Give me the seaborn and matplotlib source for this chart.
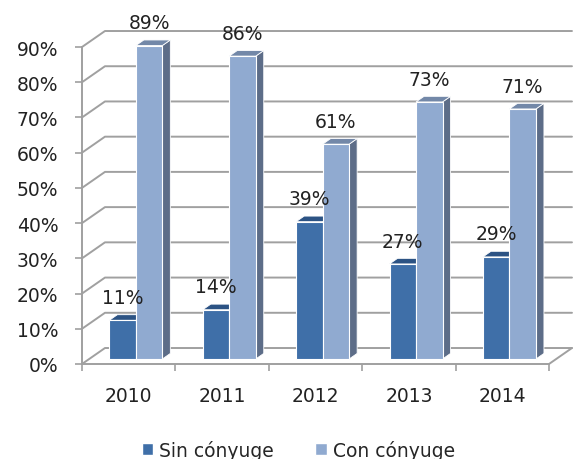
import numpy as np
import pandas as pd
import matplotlib
matplotlib.use("Agg")
import matplotlib.pyplot as plt
from matplotlib.patches import Polygon, Rectangle
from matplotlib.ticker import PercentFormatter
import seaborn as sns

# data
years = ["2010", "2011", "2012", "2013", "2014"]
sin_conyuge = [11, 14, 39, 27, 29]
con_conyuge = [89, 86, 61, 73, 71]
series_names = ["Sin cónyuge", "Con cónyuge"]

df = pd.DataFrame({
    "year": years * 2,
    "value": sin_conyuge + con_conyuge,
    "serie": [series_names[0]] * len(years) + [series_names[1]] * len(years),
})

sns.set_style("white")
plt.rcParams["font.family"] = ["DejaVu Sans"]
plt.rcParams["font.size"] = 13.5

front = {"Sin cónyuge": "#3F6FA8", "Con cónyuge": "#90AAD0"}
side = {"Sin cónyuge": "#2B4D78", "Con cónyuge": "#5D6D88"}
top = {"Sin cónyuge": "#2C5384", "Con cónyuge": "#7388A8"}
grid_col = "#A0A0A0"

# fake depth (in data units): full depth of the box and the bars' slab
DX, DY = 0.246, 4.54
Z0, Z1 = 0.31, 0.66

fig = plt.figure(figsize=(5.74, 4.6), dpi=100)
ax = fig.add_axes([82 / 574, 95 / 460, 467 / 574, 317 / 460])

sns.barplot(data=df, x="year", y="value", hue="serie", palette=front,
            width=0.567, saturation=1, legend=False, ax=ax,
            edgecolor="white", linewidth=0.8)
ax.set_xlim(-0.5, 4.5)
ax.set_ylim(0, 90)

# walls: side wall and back wall gridlines, floor
for v in range(0, 91, 10):
    ax.plot([-0.5, -0.5 + DX, 4.5 + DX], [v, v + DY, v + DY],
            color=grid_col, lw=1.4, clip_on=False, zorder=0)
ax.plot([4.5, 4.5 + DX], [0, DY], color=grid_col, lw=1.4, clip_on=False, zorder=0)

# turn flat bars into boxes
for k, (name, cont) in enumerate(zip(series_names, ax.containers)):
    z = 2 + k
    for bar in cont:
        x0 = bar.get_x() + Z0 * DX
        h = bar.get_height()
        w = bar.get_width()
        y0 = Z0 * DY
        bar.set_x(x0)
        bar.set_y(y0)
        bar.set_zorder(z + 0.2)
        bar.set_clip_on(False)
        d = (Z1 - Z0)
        sx = [x0 + w, x0 + w + d * DX, x0 + w + d * DX, x0 + w]
        sy = [y0, y0 + d * DY, y0 + h + d * DY, y0 + h]
        ax.add_patch(Polygon(np.column_stack([sx, sy]), closed=True,
                             facecolor=side[name], edgecolor="white", lw=0.6,
                             zorder=z, clip_on=False))
        tx = [x0, x0 + w, x0 + w + d * DX, x0 + d * DX]
        ty = [y0 + h, y0 + h, y0 + h + d * DY, y0 + h + d * DY]
        ax.add_patch(Polygon(np.column_stack([tx, ty]), closed=True,
                             facecolor=top[name], edgecolor="white", lw=0.6,
                             zorder=z + 0.1, clip_on=False))
        ax.annotate(f"{h:.0f}%", (x0 + w / 2, y0 + h), xytext=(0, 16.5),
                    textcoords="offset points", ha="center", va="center",
                    fontsize=13.5, color="#222222", zorder=6,
                    annotation_clip=False)

for s in ["top", "right"]:
    ax.spines[s].set_visible(False)
for s in ["left", "bottom"]:
    ax.spines[s].set_color(grid_col)
    ax.spines[s].set_linewidth(1.4)
    ax.spines[s].set_zorder(1)

ax.set_yticks(range(0, 91, 10))
ax.yaxis.set_major_formatter(PercentFormatter(decimals=0))
ax.tick_params(axis="y", length=5, width=1.2, color=grid_col, pad=12,
               labelsize=13.5, labelcolor="#222222", left=True)
ax.set_xticks(range(len(years)))
ax.set_xticklabels(years)
ax.set_xticks(np.arange(-0.5, len(years), 1), minor=True)
ax.tick_params(axis="x", which="major", length=0, pad=16,
               labelsize=13.5, labelcolor="#222222")
ax.tick_params(axis="x", which="minor", length=5, width=1.2, color=grid_col,
               bottom=True)
ax.set_xlabel("")
ax.set_ylabel("")

handles = [Rectangle((0, 0), 1, 1, facecolor=front[n]) for n in series_names]
fig.legend(handles, series_names, loc="center", bbox_to_anchor=(0.52, 0.02),
           ncol=2, frameon=False, fontsize=13.5, handlelength=0.6,
           handleheight=0.6, handletextpad=0.35, columnspacing=2.2,
           borderpad=0, borderaxespad=0)

fig.savefig("out.png", dpi=100)
